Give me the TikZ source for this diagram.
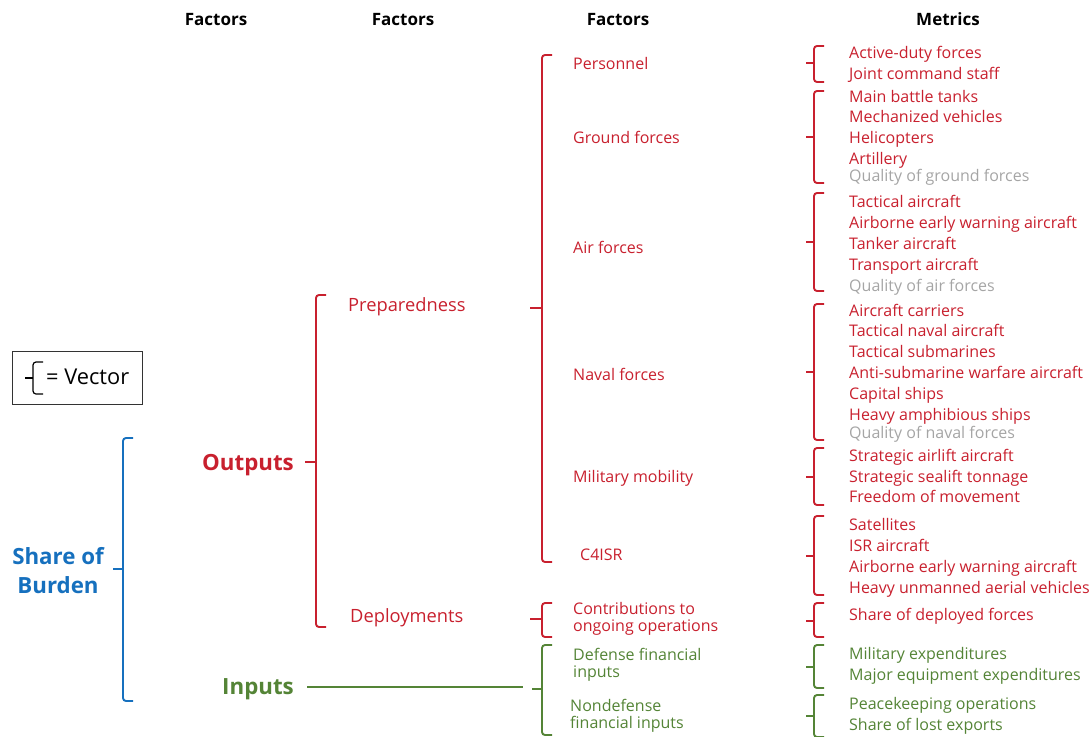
\documentclass[tikz,border=0pt]{standalone}
\usepackage{fontspec}
\setmainfont{Open Sans}
\definecolor{rrd}{RGB}{200,32,46}
\definecolor{bbl}{RGB}{22,112,190}
\definecolor{ggr}{RGB}{84,132,54}
\definecolor{ggy}{RGB}{165,165,165}
\newcommand\bracketv[6]{% style, x, top, bottom, mid, ticklen
  \draw[#1, rounded corners=3pt] (#2+10,#3) -- (#2,#3) -- (#2,#4) -- (#2+10,#4);
  \draw[#1] (#2-#6,#5) -- (#2,#5);}
\begin{document}
\begin{tikzpicture}[x=1pt,y=-1pt,
  hd/.style={font=\bfseries\fontsize{17}{20}\selectfont, inner sep=0, anchor=base},
  txt/.style={anchor=base west, yshift=-6pt, inner sep=0, font=\fontsize{16}{17}\selectfont},
  lvl2/.style={anchor=base west, yshift=-6.5pt, inner sep=0, font=\fontsize{18.3}{20}\selectfont, text=rrd},
  big/.style={inner sep=0, font=\bfseries\fontsize{22.3}{29}\selectfont, align=center},
  two/.style={anchor=west, inner sep=0, align=left, font=\fontsize{16}{17}\selectfont},
  rb/.style={draw=rrd, line width=1.9pt},
  bb/.style={draw=bbl, line width=1.9pt},
  gb/.style={draw=ggr, line width=1.9pt},
  kb/.style={draw=black, line width=1.2pt}]
\useasboundingbox (0,0) rectangle (1091,736);
% headers
\node[hd] (h1) at (216,25) {Factors};
\node[hd] (h2) at (403,25) {Factors};
\node[hd] (h3) at (618,25) {Factors};
\node[hd] (h4) at (948,25) {Metrics};
% legend
\node[draw=black!80, line width=0.9pt, minimum width=130pt, minimum height=53pt, anchor=north west, inner sep=0] (legend) at (12,351) {};
\bracketv{kb, rounded corners=2.5pt}{33}{362}{394}{378}{8}
\node[anchor=base west, inner sep=0, font=\fontsize{21.8}{24}\selectfont] (vec) at (46,384) {= Vector};
% level 1
\node[big, text=bbl] (share) at (58,571) {Share of\\Burden};
\bracketv{bb}{123}{438}{701}{569}{10}
% level 2
\node[big, text=rrd, anchor=base east] (outputs) at (294,470) {Outputs};
\node[big, text=ggr, anchor=base east] (inputs) at (294,694) {Inputs};
\bracketv{rb}{316}{295}{627}{462}{11}
\coordinate (inA) at (307,687);
\coordinate (inB) at (523,687);
\draw[ggr, line width=1.9pt] (inA) -- (inB);
% level 3
\node[lvl2] (prep) at (348,305) {Preparedness};
\node[lvl2] (depl) at (350,616) {Deployments};
\bracketv{rb}{542}{55}{562}{308}{12}
\bracketv{rb}{542}{603}{637}{619}{12}
\bracketv{gb}{542}{645}{735}{689}{10}
% level 4
\node[txt, text=rrd] (pers) at (573,63) {Personnel};
\node[txt, text=rrd] (ground) at (573,137) {Ground forces};
\node[txt, text=rrd] (air) at (573,247) {Air forces};
\node[txt, text=rrd] (naval) at (573,374) {Naval forces};
\node[txt, text=rrd] (mob) at (573,476) {Military mobility};
\node[txt, text=rrd] (c4) at (580,554) {C4ISR};
\node[two, text=rrd] (contr) at (573,619) {Contributions to\\ongoing operations};
\node[two, text=ggr] (dfin) at (573,665) {Defense financial\\inputs};
\node[two, text=ggr] (ndfin) at (570,716) {Nondefense\\financial inputs};
% metric brackets
\bracketv{rb}{814}{46}{82}{63}{8}
\bracketv{rb}{814}{91}{183}{137}{8}
\bracketv{rb}{814}{193}{291}{242}{8}
\bracketv{rb}{814}{304}{440}{372}{8}
\bracketv{rb}{814}{448}{505}{477}{8}
\bracketv{rb}{814}{516}{595}{556}{8}
\bracketv{rb}{814}{603}{637}{621}{8}
\bracketv{gb}{814}{645}{688}{667}{8}
\bracketv{gb}{814}{695}{737}{716}{8}
% metrics
\node[txt, text=rrd] (m1) at (849,52) {Active-duty forces};
\node[txt, text=rrd] (m2) at (849,73) {Joint command staff};
\node[txt, text=rrd] (m3) at (849,96) {Main battle tanks};
\node[txt, text=rrd] (m4) at (849,116) {Mechanized vehicles};
\node[txt, text=rrd] (m5) at (849,137) {Helicopters};
\node[txt, text=rrd] (m6) at (849,158) {Artillery};
\node[txt, text=ggy] (m7) at (849,175) {Quality of ground forces};
\node[txt, text=rrd] (m8) at (849,201) {Tactical aircraft};
\node[txt, text=rrd] (m9) at (849,222) {Airborne early warning aircraft};
\node[txt, text=rrd] (m10) at (849,243) {Tanker aircraft};
\node[txt, text=rrd] (m11) at (849,264) {Transport aircraft};
\node[txt, text=ggy] (m12) at (849,285) {Quality of air forces};
\node[txt, text=rrd] (m13) at (849,310) {Aircraft carriers};
\node[txt, text=rrd] (m14) at (849,330) {Tactical naval aircraft};
\node[txt, text=rrd] (m15) at (849,351) {Tactical submarines};
\node[txt, text=rrd] (m16) at (849,372) {Anti-submarine warfare aircraft};
\node[txt, text=rrd] (m17) at (849,393) {Capital ships};
\node[txt, text=rrd] (m18) at (849,414) {Heavy amphibious ships};
\node[txt, text=ggy] (m19) at (849,432) {Quality of naval forces};
\node[txt, text=rrd] (m20) at (849,455) {Strategic airlift aircraft};
\node[txt, text=rrd] (m21) at (849,476) {Strategic sealift tonnage};
\node[txt, text=rrd] (m22) at (849,496) {Freedom of movement};
\node[txt, text=rrd] (m23) at (849,524) {Satellites};
\node[txt, text=rrd] (m24) at (849,545) {ISR aircraft};
\node[txt, text=rrd] (m25) at (849,566) {Airborne early warning aircraft};
\node[txt, text=rrd] (m26) at (849,587) {Heavy unmanned aerial vehicles};
\node[txt, text=rrd] (m27) at (849,614) {Share of deployed forces};
\node[txt, text=ggr] (m28) at (849,653) {Military expenditures};
\node[txt, text=ggr] (m29) at (849,674) {Major equipment expenditures};
\node[txt, text=ggr] (m30) at (849,703) {Peacekeeping operations};
\node[txt, text=ggr] (m31) at (849,724) {Share of lost exports};
\end{tikzpicture}
\end{document}
